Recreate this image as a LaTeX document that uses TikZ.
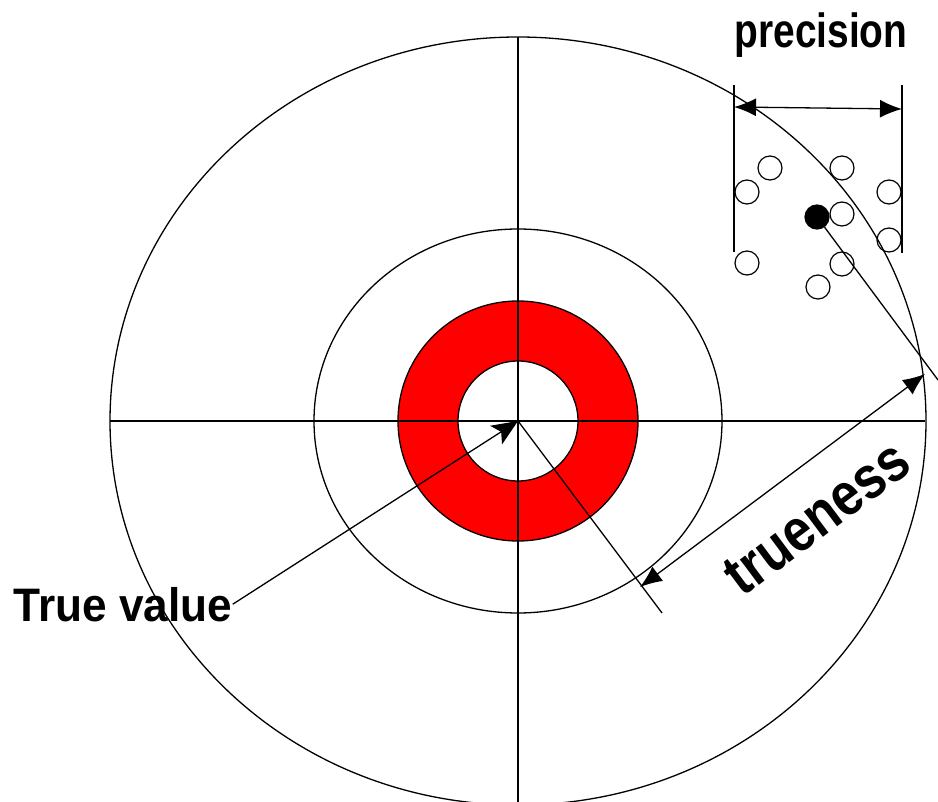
\documentclass[tikz,border=0pt]{standalone}
\usepackage{fontspec}
\setmainfont{Liberation Sans}
\usetikzlibrary{arrows.meta}
\begin{document}
\begin{tikzpicture}[x=1pt,y=-1pt,line width=1.3pt,
  dot/.style={circle,draw,line width=1.2pt,minimum size=24pt,inner sep=0pt},
  lbl/.style={inner sep=0pt},
  bigtip/.style={-{Stealth[length=26pt,width=22pt,inset=6pt]}},
  dimtip/.style={{Latex[length=22pt,width=18pt]}-{Latex[length=22pt,width=18pt]}}]
\useasboundingbox (0,0) rectangle (938,802);
\clip (0,0) rectangle (938,802);
\coordinate (C) at (518,421);
% red ring
\fill[red,even odd rule] (C) circle[radius=120] (C) circle[radius=60];
\draw (C) circle[radius=120];
\draw (C) circle[radius=60];
\draw (C) ellipse[x radius=204,y radius=192];
\draw (C) ellipse[x radius=408,y radius=384];
% crosshair
\coordinate (HL) at (110,421);
\coordinate (HR) at (925,421);
\coordinate (VT) at (518,37);
\coordinate (VB) at (518,802);
\draw (HL) -- (HR);
\draw (VT) -- (VB);
% true value
\node[lbl,font=\fontsize{47}{52}\selectfont\bfseries,xscale=0.94,anchor=base west] (tv) at (13,621) {True value};
\draw[bigtip] (tv.east) -- (C);
% trueness
\coordinate (R1) at (662,613);
\draw (C) -- (R1);
\coordinate (T1) at (640,587);
\coordinate (T2) at (925,374);
\draw[dimtip] (T1) -- (T2);
\node[lbl,font=\fontsize{60}{64}\selectfont\bfseries,rotate=36.8,xscale=0.86] (tr) at (817,518) {trueness};
% precision
\node[lbl,font=\fontsize{48}{52}\selectfont\bfseries,xscale=0.81,anchor=base] (pr) at (821,48) {precision};
\coordinate (PL1) at (734,85);
\coordinate (PL2) at (734,252);
\coordinate (PR1) at (902,85);
\coordinate (PR2) at (902,253);
\draw (PL1) -- (PL2);
\draw (PR1) -- (PR2);
\coordinate (PA) at (734,107);
\coordinate (PB) at (902,109);
\draw[dimtip] (PA) -- (PB);
% dots
\node[dot] (d1) at (770,168) {};
\node[dot] (d2) at (747,192) {};
\node[dot] (d3) at (842,168) {};
\node[dot] (d4) at (889,192) {};
\node[dot,fill=black] (dF) at (817,217) {};
\node[dot] (d5) at (842,214) {};
\node[dot] (d6) at (889,240) {};
\node[dot] (d7) at (747,263) {};
\node[dot] (d8) at (842,264) {};
\node[dot] (d9) at (818,287) {};
\coordinate (E) at (938,380);
\draw (dF) -- (E);
\end{tikzpicture}
\end{document}
